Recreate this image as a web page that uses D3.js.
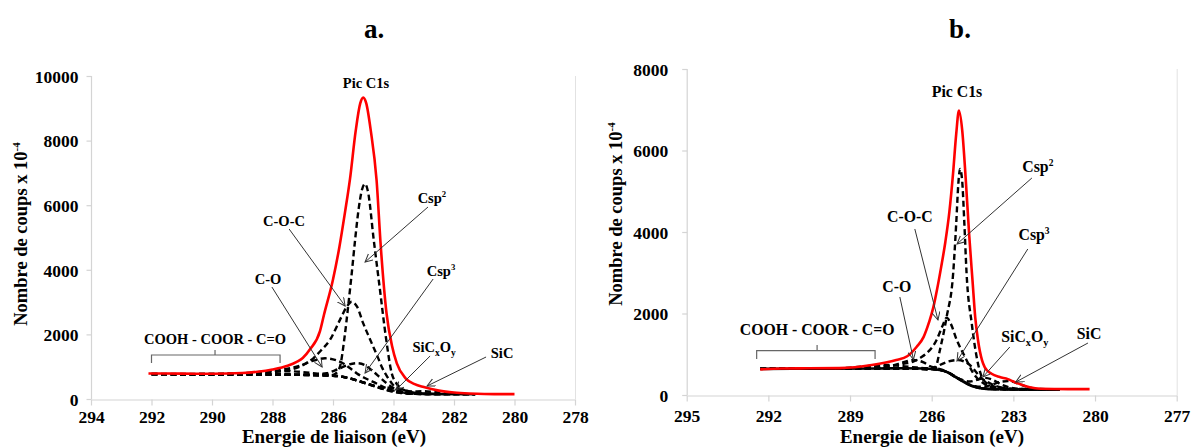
<!DOCTYPE html>
<html><head><meta charset="utf-8">
<script src="https://cdn.jsdelivr.net/npm/d3@7"></script>
<style>
html,body{margin:0;padding:0;background:#fff;}
svg text, svg tspan{font-family:"Liberation Serif","Times New Roman",serif !important;font-weight:bold;fill:#000;}
</style></head>
<body><svg id="chart" width="1195" height="448"></svg>
<script>
// ---------- Panel a data (eV, counts x1e-4) ----------
const xTicksA = [294,292,290,288,286,284,282,280,278];
const yTicksA = [0,2000,4000,6000,8000,10000];
const redA = [[292.1,790],[291,785],[290,780],[289,805],[288.5,845],[288,915],[287.5,1030],[287.2,1150],[287.0,1270],[286.76,1540],[286.43,2100],[286.3,2600],[286.0,3700],[285.79,4700],[285.6,5800],[285.44,6800],[285.25,8300],[285.1,9150],[285.0,9330],[284.9,9150],[284.75,8300],[284.56,6780],[284.42,4715],[284.23,2650],[284.05,1650],[283.89,1105],[283.6,640],[283.3,460],[283.0,370],[282.5,260],[282.0,200],[281.5,170],[281,155],[280,150]];
const bgA = [[292,770],[291,765],[290,760],[289,758],[288,755],[287,748],[286.5,737],[286,722],[285.5,650],[285,510],[284.5,360],[284.2,270],[283.8,195],[283.4,165],[283,155],[282,150],[281.3,150]];
const cooA = [[292,775],[291,778],[290,782],[289,800],[288.5,830],[288,855],[287.5,860],[287,835],[286.5,785],[286,735],[285.5,655],[285,515],[284.5,362],[284.2,272],[283.8,197],[283.4,166],[283,155],[282,150],[281.3,150]];
const coA = [[292,772],[290,770],[289,780],[288.2,845],[287.6,920],[287.1,1030],[286.7,1170],[286.26,1260],[285.9,1200],[285.66,1100],[285.4,930],[285.22,800],[284.95,650],[284.67,530],[284.23,330],[283.8,215],[283.4,168],[283,155],[282,150],[281.3,150]];
const cocA = [[292,772],[290,770],[288.5,800],[288,830],[287.5,890],[287.2,960],[286.9,1100],[286.65,1260],[286.4,1500],[286.1,1830],[285.77,2450],[285.55,2850],[285.38,3010],[285.2,2850],[285.0,2340],[284.8,1900],[284.67,1620],[284.5,1250],[284.39,1000],[284.2,680],[284.06,490],[283.79,230],[283.5,175],[283,155],[282,150],[281.3,150]];
const csp3A = [[292,770],[290,765],[288,760],[287,755],[286.5,770],[286.2,800],[285.95,880],[285.77,950],[285.5,1060],[285.2,1110],[284.95,1050],[284.67,850],[284.45,670],[284.23,490],[283.9,290],[283.6,200],[283.2,162],[282.5,152],[281.3,150]];
const csp2A = [[292,770],[290,765],[288,760],[287,752],[286.5,740],[286.1,730],[285.9,800],[285.77,1000],[285.62,1900],[285.5,2860],[285.38,3900],[285.27,4920],[285.15,5900],[285.05,6450],[284.94,6660],[284.85,6450],[284.65,4900],[284.45,3400],[284.25,1900],[284.06,800],[283.9,480],[283.7,300],[283.4,210],[283,170],[282.5,155],[281.3,150]];
const sicxoyA = [[292,770],[288,755],[286,722],[285.5,648],[285,515],[284.6,400],[284.3,350],[284.0,345],[283.75,310],[283.45,230],[283.1,175],[282.6,155],[281.3,150]];
const sicA = [[292,770],[288,755],[286,722],[285.5,648],[285,510],[284.5,355],[284.1,265],[283.7,225],[283.3,235],[283.0,240],[282.7,220],[282.3,180],[282,163],[281.3,150]];

// ---------- Panel b data ----------
const xTicksB = [295,292,289,286,283,280,277];
const yTicksB = [0,2000,4000,6000,8000];
const redB = [[292.3,630],[291.5,650],[290.5,655],[289.4,660],[288.2,735],[287.3,860],[286.9,950],[286.55,1185],[286.3,1420],[286.1,1780],[285.94,2150],[285.8,2600],[285.65,3150],[285.5,3750],[285.35,4500],[285.22,5400],[285.1,6400],[285.0,6980],[284.88,6500],[284.75,5300],[284.62,3900],[284.5,2800],[284.4,1900],[284.3,1350],[284.15,850],[284.05,680],[283.8,520],[283.5,440],[283.2,390],[283.0,330],[282.7,250],[282.4,190],[282.0,155],[281.0,145],[280.2,145]];
const bgB = [[292.3,640],[290,645],[288,650],[287,655],[286.3,650],[285.9,630],[285.5,580],[285,390],[284.5,215],[284,150],[283.5,140],[283,135],[282,135],[281.3,135]];
const cooB = [[292.3,640],[290,650],[289,670],[288.3,715],[287.8,740],[287.3,725],[286.8,690],[286.2,652],[285.8,620],[285.5,585],[285,395],[284.5,220],[284,152],[283.5,140],[283,135],[282,135],[281.3,135]];
const coB = [[292.3,640],[290,645],[289,660],[288.2,690],[287.53,711],[287.1,790],[286.68,860],[286.3,800],[286.07,711],[285.82,660],[285.5,590],[285,400],[284.5,222],[284,152],[283.5,140],[283,135],[282,135],[281.3,135]];
const cocB = [[292.3,640],[290,645],[288.5,665],[287.53,711],[287,770],[286.68,818],[286.4,920],[286.19,1023],[285.82,1350],[285.6,1700],[285.45,1900],[285.3,1750],[285.08,1350],[284.78,940],[284.47,532],[284.1,287],[283.8,190],[283.4,150],[283,138],[282,135],[281.3,135]];
const csp3B = [[292.3,640],[290,645],[288,650],[287,655],[286.3,652],[285.94,650],[285.7,736],[285.4,820],[285.03,860],[284.8,820],[284.6,736],[284.4,590],[284.23,450],[283.86,287],[283.5,190],[283.1,150],[282.5,138],[281.3,135]];
const csp2B = [[292.3,640],[290,642],[288,648],[287,650],[286.5,640],[286.1,620],[285.85,700],[285.7,1100],[285.45,1920],[285.21,3000],[285.1,4200],[285.02,5200],[284.96,5550],[284.88,5250],[284.8,4200],[284.72,3000],[284.53,1760],[284.35,940],[284.1,370],[283.8,230],[283.5,180],[283,155],[282,140],[281.3,135]];
const sicxoyB = [[292.3,640],[288,650],[286.3,650],[285.9,632],[285.5,580],[285,400],[284.6,330],[284.3,380],[284.05,420],[283.75,370],[283.45,260],[283.1,180],[282.6,145],[282,136],[281.3,135]];
const sicB = [[292.3,640],[288,650],[286.3,650],[285.9,632],[285.5,580],[285,395],[284.5,230],[284.1,200],[283.8,250],[283.5,320],[283.2,340],[282.9,300],[282.6,225],[282.3,170],[282,148],[281.3,136]];

// ---------- Annotations ----------
const notesA = [
  {t:"Pic C1s", at:[284.91,9628]},
  {t:"Csp", sup:"2", at:[282.73,6068], from:[282.86,5944], to:[284.94,4241]},
  {t:"C-O-C", at:[287.62,5356], from:[287.45,5263], to:[285.60,2879]},
  {t:"C-O", at:[288.15,3560], from:[288.02,3467], to:[286.36,990]},
  {t:"Csp", sup:"3", at:[282.43,3808], from:[282.69,3715], to:[284.94,805]},
  {t:"SiCxOy", at:[282.66,1455], from:[282.79,1331], to:[283.92,279]},
  {t:"SiC", at:[280.41,1269], from:[280.94,1300], to:[282.89,402]},
  {t:"COOH - COOR - C=O", at:[289.90,1703]}
];
const bracketA = {x0:292.0, x1:287.75, xm:289.9, y:1362, yEnd:1115, yTip:1517};
const notesB = [
  {t:"Pic C1s", at:[285.07,7313]},
  {t:"Csp", sup:"2", at:[282.10,5472], from:[282.32,5325], to:[285.07,3706]},
  {t:"C-O-C", at:[286.80,4245], from:[286.62,4074], to:[285.77,1840]},
  {t:"Csp", sup:"3", at:[282.24,3804], from:[282.47,3583], to:[285.07,834]},
  {t:"C-O", at:[287.28,2528], from:[287.17,2405], to:[286.67,871]},
  {t:"SiCxOy", at:[282.58,1300], from:[283.13,1178], to:[284.12,442]},
  {t:"SiC", at:[280.22,1374], from:[280.26,1276], to:[282.91,319]},
  {t:"COOH - COOR - C=O", at:[290.21,1472]}
];
const bracketB = {x0:292.43, x1:288.08, xm:290.21, y:1087, yEnd:883, yTip:1227};

const FONT = '"Liberation Serif","Times New Roman",serif';
const svg = d3.select("#chart");
const defs = svg.append("defs");
defs.append("marker").attr("id","arr").attr("markerUnits","userSpaceOnUse")
  .attr("markerWidth",12).attr("markerHeight",12).attr("refX",8).attr("refY",4)
  .attr("orient","auto")
  .append("path").attr("d","M0,0 L8,4 L0,8").attr("fill","none").attr("stroke","#333").attr("stroke-width",1);

function panel(cfg){
  const x = d3.scaleLinear().domain(cfg.xDom).range(cfg.xRange);
  const y = d3.scaleLinear().domain(cfg.yDom).range(cfg.yRange);
  const g = svg.append("g").attr("font-family",FONT).attr("font-weight","bold");
  g.append("line").attr("x1",cfg.xRange[1]+0.5).attr("x2",cfg.xRange[1]+0.5)
    .attr("y1",cfg.yRange[1]).attr("y2",cfg.yRange[0]).attr("stroke","#e2e2e2").attr("stroke-width",1);
  const xa = g.append("g").attr("transform",`translate(0,${cfg.yRange[0]+0.5})`)
    .call(d3.axisBottom(x).tickValues(cfg.xTicks).tickSize(6).tickSizeOuter(0).tickFormat(d3.format("d")));
  const ya = g.append("g").attr("transform",`translate(${cfg.xRange[0]+0.5},0)`)
    .call(d3.axisLeft(y).tickValues(cfg.yTicks).tickSize(5).tickSizeOuter(0).tickFormat(d3.format("d")));
  [xa,ya].forEach(a=>{
    a.attr("font-family",FONT).attr("font-size",cfg.tickFs);
    a.select(".domain").attr("stroke","#d4d4d4").attr("stroke-width",1.2);
    a.selectAll(".tick line").attr("stroke","#d4d4d4").attr("stroke-width",1.2);
    a.selectAll("text").attr("font-family",FONT).attr("font-weight","bold").attr("font-size",cfg.tickFs).attr("fill","#000");
  });
  xa.selectAll("text").attr("y",cfg.xLabOff).attr("dy",0);
  ya.selectAll("text").attr("x",-cfg.yLabOff).attr("dy","0.36em");
  ya.select(".domain").attr("d",`M0,${cfg.yRange[0]}V${cfg.yRange[1]}`);

  const line = d3.line().x(d=>x(d[0])).y(d=>y(d[1])).curve(d3.curveMonotoneX);
  cfg.comps.forEach(c=>{
    g.append("path").attr("d",line(c.data)).attr("fill","none").attr("stroke","#000")
      .attr("stroke-width",c.w||2.4).attr("stroke-dasharray",c.dash===false?null:"6,3.5");
  });
  g.append("path").attr("d",line(cfg.red)).attr("fill","none").attr("stroke","#ff0000").attr("stroke-width",2.6);

  const b = cfg.bracket;
  g.append("path").attr("d",`M${x(b.x0)},${y(b.yEnd)}V${y(b.y)}H${x(b.x1)}V${y(b.yEnd)}M${x(b.xm)},${y(b.y)}V${y(b.yTip)}`)
    .attr("fill","none").attr("stroke","#666").attr("stroke-width",1.2);

  cfg.notes.forEach(n=>{
    if(n.from){
      g.append("line").attr("x1",x(n.from[0])).attr("y1",y(n.from[1]))
        .attr("x2",x(n.to[0])).attr("y2",y(n.to[1])).attr("stroke","#333").attr("stroke-width",1)
        .attr("marker-end","url(#arr)");
    }
    const t = g.append("text").attr("x",x(n.at[0])).attr("y",y(n.at[1]))
      .attr("text-anchor","middle").attr("font-size",cfg.noteFs).attr("font-family",FONT);
    if(n.t==="SiCxOy"){
      t.append("tspan").text("SiC");
      t.append("tspan").attr("dy",4).attr("font-size",cfg.noteFs*0.65).text("x");
      t.append("tspan").attr("dy",-4).text("O");
      t.append("tspan").attr("dy",4).attr("font-size",cfg.noteFs*0.65).text("y");
    } else {
      t.append("tspan").text(n.t);
      if(n.sup) t.append("tspan").attr("dy",-6).attr("font-size",cfg.noteFs*0.6).text(n.sup);
    }
  });

  svg.append("text").attr("x",cfg.title[1]).attr("y",cfg.title[2]).attr("text-anchor","middle")
    .attr("font-family",FONT).attr("font-size",27).text(cfg.title[0]);
  svg.append("text").attr("x",cfg.xTitle[0]).attr("y",cfg.xTitle[1]).attr("text-anchor","middle")
    .attr("font-family",FONT).attr("font-size",19).text("Energie de liaison (eV)");
  const yt = svg.append("text").attr("transform",`translate(${cfg.yTitle[0]},${cfg.yTitle[1]}) rotate(-90)`)
    .attr("text-anchor","middle").attr("font-family",FONT).attr("font-size",18.5);
  yt.append("tspan").text("Nombre de coups x 10");
  yt.append("tspan").attr("dy",-7).attr("font-size",11).text("-4");
}

panel({xDom:[294,278], xRange:[91,575], yDom:[0,10000], yRange:[399,76],
  xTicks:xTicksA, yTicks:yTicksA, tickFs:17.5, xLabOff:23, yLabOff:13,
  red:redA, noteFs:14.5, bracket:bracketA, notes:notesA,
  comps:[{data:bgA},{data:cooA},{data:coA},{data:cocA},{data:csp3A},{data:csp2A},{data:sicxoyA},{data:sicA}],
  title:["a.",374,38], xTitle:[334,443], yTitle:[27,234]});

panel({xDom:[295,277], xRange:[686.7,1176.7], yDom:[0,8000], yRange:[395,69],
  xTicks:xTicksB, yTicks:yTicksB, tickFs:17.5, xLabOff:26, yLabOff:19,
  red:redB, noteFs:15.8, bracket:bracketB, notes:notesB,
  comps:[{data:bgB,dash:false,w:2.6},{data:cooB},{data:coB},{data:cocB},{data:csp3B},{data:csp2B},{data:sicxoyB},{data:sicB}],
  title:["b.",960,38], xTitle:[932,443], yTitle:[622,214]});
</script></body></html>
